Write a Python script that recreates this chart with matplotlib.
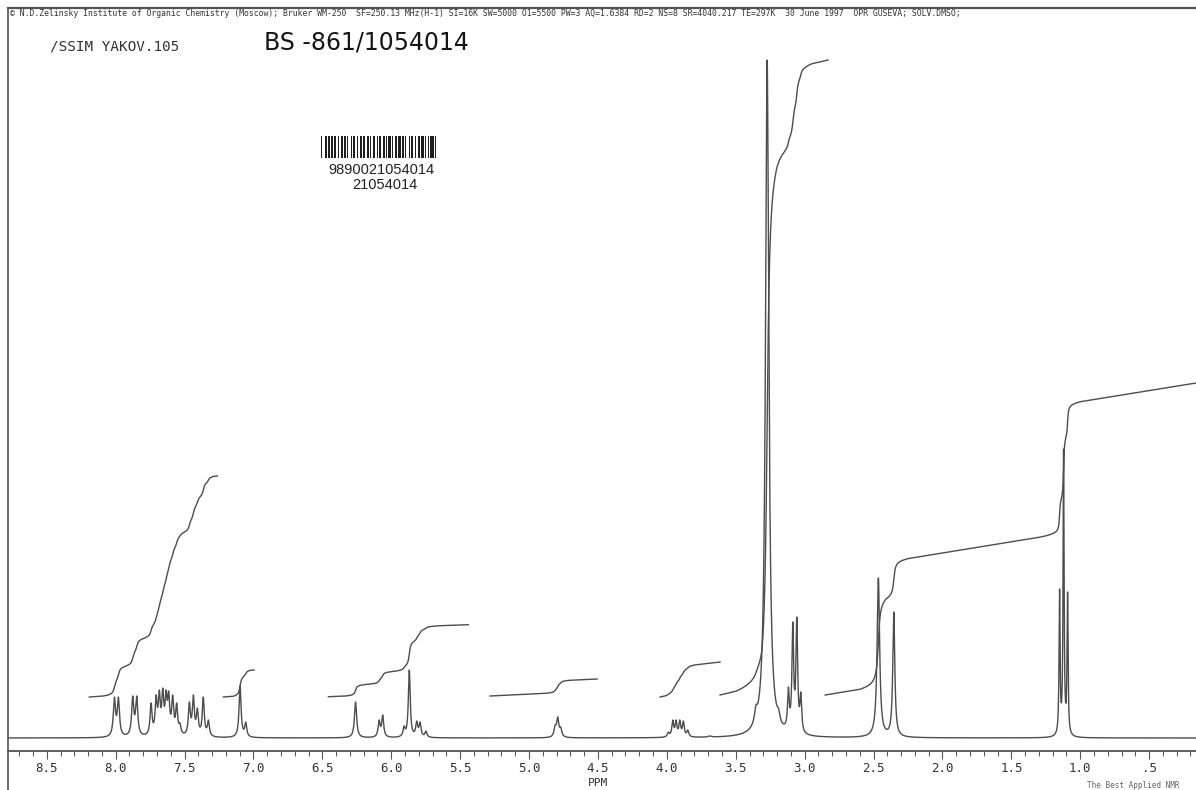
import numpy as np
import matplotlib
matplotlib.use("Agg")
import matplotlib.pyplot as plt
from matplotlib.lines import Line2D

W, H = 1196, 790
PX_PER_PPM = 137.8

# ---------------- data ----------------
# peak positions (ppm), apparent top heights above baseline (px units), half widths (px)
peak_ppm = [8.009, 7.980, 7.876, 7.847,
            7.743, 7.706, 7.683, 7.658, 7.634, 7.615, 7.586, 7.557, 7.533,
            7.465, 7.436, 7.407, 7.364, 7.327,
            7.097, 7.056,
            6.259, 6.088, 6.062, 5.907, 5.869, 5.815, 5.791, 5.748,
            4.811, 4.792, 4.770,
            3.989, 3.957, 3.933, 3.906, 3.880, 3.848, 3.69,
            3.45, 3.354, 3.272, 3.19,
            3.118, 3.086, 3.057, 3.028,
            2.55, 2.465, 2.353,
            1.150, 1.121, 1.092]
peak_top = [41, 41, 42, 42,
            35, 43, 48, 50, 48, 47, 43, 35, 15,
            36, 43, 30, 41, 18,
            52, 16,
            36, 18, 23, 12, 68, 17, 16, 7,
            13, 21, 11,
            6, 18, 18, 18, 17, 8, 2,
            4, 33, 678, 30,
            51, 116, 121, 46,
            3, 160, 126,
            149, 289, 146]
peak_hw_px = [1.3, 1.3, 1.3, 1.3,
              1.2, 1.2, 1.2, 1.2, 1.2, 1.2, 1.2, 1.2, 1.2,
              1.2, 1.2, 1.2, 1.2, 1.2,
              1.2, 1.2,
              1.3, 1.2, 1.2, 1.2, 1.1, 1.2, 1.2, 1.2,
              1.3, 1.3, 1.3,
              1.2, 1.1, 1.1, 1.1, 1.1, 1.2, 2.0,
              2.0, 1.6, 2.0, 1.5,
              1.0, 1.0, 1.0, 1.0,
              2.0, 1.5, 1.2,
              0.6, 0.6, 0.6]

# integral traces: start / end (ppm), start level, linear drift
int_start_ppm = [8.191, 7.218, 6.456, 5.283, 4.049, 3.614, 2.851]
int_end_ppm = [7.262, 6.996, 5.441, 4.506, 3.614, 2.830, 0.160]
int_start_y = [41, 41, 41.3, 42, 41, 43, 43]
int_drift = [8, 2, 5, 5, 7, 25, 60]
# integral steps: region index, ppm window (hi, lo), step height
step_region = [0, 0, 0, 0, 1, 2, 2, 2, 3, 4, 5, 5, 5, 6, 6, 6]
step_hi = [8.10, 7.94, 7.80, 7.50, 7.15, 6.35, 6.17, 5.98, 4.90, 4.05, 3.50, 3.31, 3.20, 2.60, 2.41, 1.30]
step_lo = [7.94, 7.80, 7.50, 7.28, 7.02, 6.17, 5.98, 5.65, 4.70, 3.80, 3.31, 3.20, 2.95, 2.41, 2.25, 1.00]
step_size = [28, 27, 104, 54, 25, 11, 12, 44, 12, 28, 35, 480, 95, 86, 37, 129]

major_ticks = [8.5, 8.0, 7.5, 7.0, 6.5, 6.0, 5.5, 5.0, 4.5, 4.0, 3.5, 3.0, 2.5, 2.0, 1.5, 1.0, 0.5]
major_labels = ["8.5", "8.0", "7.5", "7.0", "6.5", "6.0", "5.5", "5.0", "4.5",
                "4.0", "3.5", "3.0", "2.5", "2.0", "1.5", "1.0", ".5"]

header = ("\u00a9 N.D.Zelinsky Institute of Organic Chemistry (Moscow); Bruker WM-250  "
          "SF=250.13 MHz(H-1) SI=16K SW=5000 O1=5500 PW=3 AQ=1.6384 RD=2 NS=8 "
          "SR=4040.217 TE=297K  30 June 1997  OPR GUSEVA; SOLV.DMSO;")
sample_id = "/SSIM YAKOV.105"
hand_id = "BS -861/1054014"
barcode_text = "21054014"
barcode_long = "9890021054014"

# ---------------- spectrum ----------------
x_left, x_right = 8.781, 0.160
ppm = np.linspace(x_left, x_right, 60000)
p = np.array(peak_ppm)
t = np.array(peak_top, float)
w = np.array(peak_hw_px) / PX_PER_PPM

A = 1.0 / (1.0 + ((p[:, None] - p[None, :]) / w[None, :]) ** 2)
amp = t.copy()
for _ in range(200):
    amp = np.clip(amp + 0.5 * (t - A @ amp), 0, None)

spec = np.zeros_like(ppm)
for pi, ai, wi in zip(p, amp, w):
    spec += ai / (1.0 + ((ppm - pi) / wi) ** 2)

# ---------------- figure ----------------
fig = plt.figure(figsize=(W / 100, H / 100), dpi=100)
fig.patch.set_facecolor("white")
ax = fig.add_axes([8 / W, (H - 751) / H, (W - 8) / W, (751 - 8) / H])
ax.set_xlim(x_left, x_right)
ax.set_ylim(-13, 730)

lc = "#4d4d4d"
ax.plot(ppm, spec, color=lc, lw=1.0)

# integrals
for r in range(len(int_start_ppm)):
    a, b = int_start_ppm[r], int_end_ppm[r]
    m = (ppm <= a) & (ppm >= b)
    y = int_start_y[r] + int_drift[r] * (a - ppm) / (a - b)
    for k in range(len(step_region)):
        if step_region[k] != r:
            continue
        win = (ppm <= step_hi[k]) & (ppm >= step_lo[k])
        cs = np.cumsum(spec * win)
        cs = cs / cs[-1]
        y = y + step_size[k] * cs
    ax.plot(ppm[m], y[m], color=lc, lw=1.0)

for s in ["left", "right"]:
    ax.spines[s].set_visible(False)
ax.spines["top"].set_color("#555555")
ax.spines["top"].set_linewidth(1.6)
ax.spines["bottom"].set_color("#444444")
ax.spines["bottom"].set_linewidth(1.2)

ax.set_yticks([])
ax.set_xticks(major_ticks)
ax.set_xticklabels(major_labels, family="DejaVu Sans Mono", fontsize=9, color="#333333")
ax.set_xticks(np.round(np.arange(8.7, 0.15, -0.1), 1), minor=True)
ax.tick_params(axis="x", which="major", direction="out", length=6, width=0.8,
               color="#555555", pad=2)
ax.tick_params(axis="x", which="minor", direction="out", length=3.5, width=0.7,
               color="#555555")
ax.tick_params(axis="x", which="both", top=False)

ax.text(4.5, (751 - 783) / 743, "PPM", transform=ax.get_xaxis_transform(),
        ha="center", va="center", family="DejaVu Sans Mono", fontsize=8, color="#333333")

# frame line at left
fig.add_artist(Line2D([8 / W, 8 / W], [0, 1 - 8 / H], transform=fig.transFigure,
                      color="#555555", lw=1.2))

# texts
fig.text(10 / W, 1 - 14 / H, header, ha="left", va="center",
         family="DejaVu Sans Mono", fontsize=5.9, color="#333333")
fig.text(50 / W, 1 - 46 / H, sample_id, ha="left", va="center",
         family="DejaVu Sans Mono", fontsize=10.3, color="#333333")
fig.text(264 / W, 1 - 43 / H, hand_id, ha="left", va="center",
         family="DejaVu Sans", fontsize=17, color="#151515")
fig.text(1133 / W, 1 - 786 / H, "The Best Applied NMR", ha="center", va="center",
         family="DejaVu Sans Mono", fontsize=5.5, color="#666666")

# barcode (Code 39 of the label number)
code39 = {"0": "nnnwwnwnn", "1": "wnnwnnnnw", "2": "nnwwnnnnw", "3": "wnwwnnnnn",
          "4": "nnnwwnnnw", "5": "wnnwwnnnn", "6": "nnwwwnnnn", "7": "nnnwnnwnw",
          "8": "wnnwnnwnn", "9": "nnwwnnwnn", "*": "nwnnwnwnn"}
bars = []
pos = 0.0
for ci, ch in enumerate("*" + barcode_text + "*"):
    for ei, e in enumerate(code39[ch]):
        wd = 2.5 if e == "w" else 1.0
        if ei % 2 == 0:
            bars.append((pos, wd))
        pos += wd
    pos += 1.0
total = pos - 1.0
bax = fig.add_axes([320.7 / W, 1 - 158 / H, 115.3 / W, 22 / H])
bax.broken_barh(bars, (0, 1), facecolor="#1e1e1e", edgecolor="none")
bax.set_xlim(0, total)
bax.set_ylim(0, 1)
bax.axis("off")
fig.text(381.5 / W, 1 - 170 / H, barcode_long, ha="center", va="center",
         family="Liberation Sans", fontsize=10.5, color="#222222")
fig.text(385 / W, 1 - 185 / H, barcode_text, ha="center", va="center",
         family="Liberation Sans", fontsize=10.5, color="#222222")

fig.savefig("out.png", dpi=100, facecolor="white")
